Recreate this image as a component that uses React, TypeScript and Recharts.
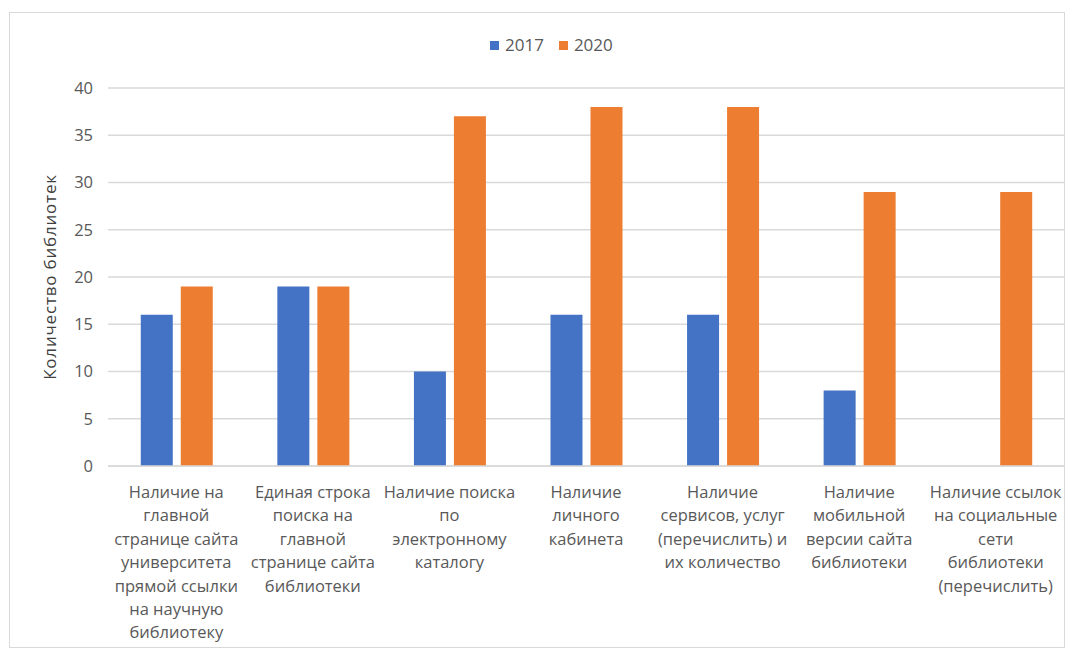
import React from "react";
import { BarChart, Bar, XAxis, YAxis, CartesianGrid, Label } from "recharts";

const categories = [
  "Наличие на главной странице сайта университета прямой ссылки на научную библиотеку",
  "Единая строка поиска на главной странице сайта библиотеки",
  "Наличие поиска по электронному каталогу",
  "Наличие личного кабинета",
  "Наличие сервисов, услуг (перечислить) и их количество",
  "Наличие мобильной версии сайта библиотеки",
  "Наличие ссылок на социальные сети библиотеки (перечислить)",
];

// wrapped lines for each category label
const tickLines: string[][] = [
  ["Наличие на", "главной", "странице сайта", "университета", "прямой ссылки", "на научную", "библиотеку"],
  ["Единая строка", "поиска на", "главной", "странице сайта", "библиотеки"],
  ["Наличие поиска", "по", "электронному", "каталогу"],
  ["Наличие", "личного", "кабинета"],
  ["Наличие", "сервисов, услуг", "(перечислить) и", "их количество"],
  ["Наличие", "мобильной", "версии сайта", "библиотеки"],
  ["Наличие ссылок", "на социальные", "сети", "библиотеки", "(перечислить)"],
];

const values2017: (number | null)[] = [16, 19, 10, 16, 16, 8, null];
const values2020 = [19, 19, 37, 38, 38, 29, 29];
const yTicks = [0, 5, 10, 15, 20, 25, 30, 35, 40];
const seriesNames = ["2017", "2020"];

const data = categories.map((name, i) => ({
  name,
  idx: i,
  y2017: values2017[i],
  y2020: values2020[i],
}));

const FONT = "'Open Sans', 'Noto Sans', sans-serif";
const TEXT = "#595959";
const BLUE = "#4472C4";
const ORANGE = "#ED7D31";
const colors = [BLUE, ORANGE];

const CategoryTick = (props: any) => {
  const { x, y, payload } = props;
  const lines = tickLines[payload.index] ?? [payload.value];
  return (
    <g transform={`translate(${x},${y})`}>
      <text textAnchor="middle" fill={TEXT} fontSize={16.5} fontFamily={FONT}>
        {lines.map((line, i) => (
          <tspan key={i} x={0} y={i * 23.4 + 24}>
            {line}
          </tspan>
        ))}
      </text>
    </g>
  );
};

export default function App() {
  return (
    <div style={{ position: "absolute", left: 0, top: 0, width: 1074, height: 652, background: "#fff" }}>
      <div
        style={{
          position: "absolute",
          left: 9,
          top: 12,
          width: 1056,
          height: 636,
          border: "1px solid #d9d9d9",
          boxSizing: "border-box",
        }}
      />
      {/* legend */}
      <div
        style={{
          position: "absolute",
          top: 35,
          left: 490,
          display: "flex",
          fontFamily: FONT,
          fontSize: 17,
          color: TEXT,
          lineHeight: "20px",
        }}
      >
        {seriesNames.map((label, i) => (
          <div key={label} style={{ display: "flex", alignItems: "center", marginRight: 15 }}>
            <span style={{ width: 9, height: 9, background: colors[i], display: "inline-block", marginRight: 6 }} />
            {label}
          </div>
        ))}
      </div>
      <div style={{ position: "absolute", left: 0, top: 0 }}>
        <BarChart
          width={1074}
          height={652}
          data={data}
          margin={{ top: 88, right: 10, left: 48, bottom: 6 }}
          barGap={8}
          barCategoryGap="24%"
        >
          <CartesianGrid vertical={false} stroke="#d9d9d9" strokeWidth={1.5} />
          <XAxis
            dataKey="idx"
            height={180}
            axisLine={{ stroke: "#d9d9d9", strokeWidth: 1.5 }}
            tickLine={false}
            interval={0}
            tick={<CategoryTick />}
          />
          <YAxis
            width={60}
            domain={[0, 40]}
            ticks={yTicks}
            axisLine={false}
            tickLine={false}
            tickMargin={9}
            tick={{ fill: TEXT, fontSize: 16.5, fontFamily: FONT }}
          >
            <Label
              value="Количество библиотек"
              angle={-90}
              position="insideLeft"
              offset={0}
              dx={2}
              style={{ fill: "#404040", fontSize: 17, fontFamily: FONT, letterSpacing: 0.8, textAnchor: "middle" }}
            />
          </YAxis>
          <Bar dataKey="y2017" name={seriesNames[0]} fill={BLUE} isAnimationActive={false} />
          <Bar dataKey="y2020" name={seriesNames[1]} fill={ORANGE} isAnimationActive={false} />
        </BarChart>
      </div>
    </div>
  );
}
